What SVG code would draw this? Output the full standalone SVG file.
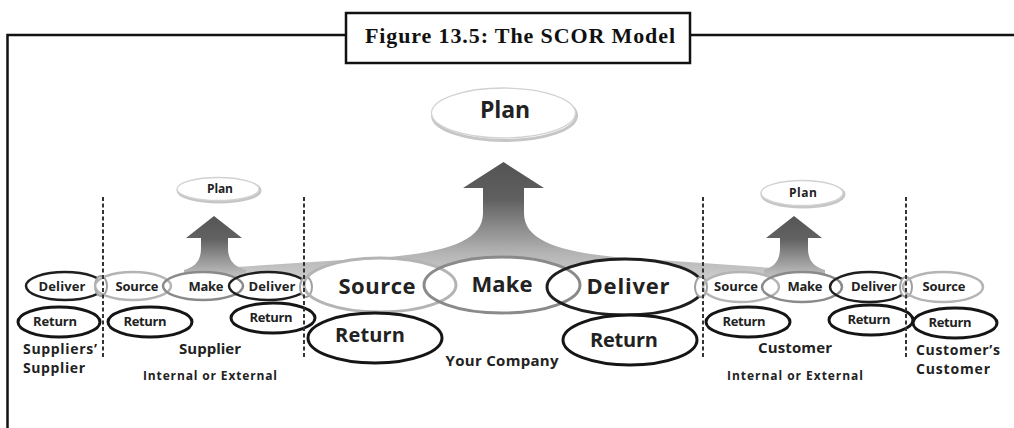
<svg xmlns="http://www.w3.org/2000/svg" width="1014" height="428" viewBox="0 0 1014 428">
<style>
.t{font-family:"Open Sans","Noto Sans",sans-serif;font-weight:700;fill:#222;text-anchor:middle}
.tl{text-anchor:start}
.s22{font-size:22px}.s20{font-size:20px}.s15{font-size:15px}.s14{font-size:14px}.s13{font-size:13px}.s12{font-size:12px}
.fill{fill:#fff;stroke:none}
.e{fill:none}
.lg{stroke:#b4b4b4;stroke-width:2.5}
.md{stroke:#8a8a8a;stroke-width:2.5}
.dk{stroke:#1e1e1e;stroke-width:2.5}
.big{stroke-width:3}
.ret{stroke:#151515;stroke-width:3}
.lnk{fill:#fff;stroke:#a0a0a0;stroke-width:2}
.plan{fill:#fff;stroke:#d2d2d2;stroke-width:1.3}
.plansh{fill:none;stroke:#c6c6c6;stroke-width:3}
.div{stroke:#333;stroke-width:2;stroke-dasharray:4 2.5;fill:none}
.frame{fill:none;stroke:#111;stroke-width:2.5}
</style>
<defs>
<linearGradient id="gBig" x1="0" y1="0" x2="0" y2="1">
<stop offset="0" stop-color="#545454"/>
<stop offset="0.3" stop-color="#5f5f5f"/>
<stop offset="0.75" stop-color="#b4b4b4"/>
<stop offset="1" stop-color="#d2d2d2"/>
</linearGradient>
<linearGradient id="gSmall" x1="0" y1="0" x2="0" y2="1">
<stop offset="0" stop-color="#555"/>
<stop offset="0.35" stop-color="#626262"/>
<stop offset="1" stop-color="#cfcfcf"/>
</linearGradient>
</defs>
<rect width="1014" height="428" fill="#fff"/>

<g id="frame">
<path class="frame" d="M7.5 428 V35 H346 M690 35 H1014"/>
<rect class="frame" x="346" y="13" width="344" height="50" fill="#fff"/>
<text x="520" y="43" font-family="'Liberation Serif',serif" font-weight="700" font-size="22" text-anchor="middle" fill="#111" textLength="310">Figure 13.5: The SCOR Model</text>
</g>

<g id="connectors">
<path fill="url(#gBig)" d="M236 267 L390 257 C450 251 483 240 483 213 L483 188 L463 188 L503.5 162 L544 188 L524 188 L524 213 C524 240 557 251 615 257 L773 268 L773 284 L236 284 Z"/>
<path fill="url(#gSmall)" d="M214 216 L242 238 L228 238 L228 248 C228 262 236 267 246 270 L246 282 L184 282 L184 270 C194 267 201 262 201 248 L201 238 L186 238 Z"/>
<path fill="url(#gSmall)" d="M794 216 L822 238 L808 238 L808 248 C808 262 815 267 825 270 L825 282 L764 282 L764 270 C773 267 780 262 780 248 L780 238 L766 238 Z"/>
</g>

<g id="fills">
<ellipse class="fill" cx="65" cy="286" rx="39" ry="14"/>
<ellipse class="fill" cx="133" cy="286" rx="38" ry="14"/>
<ellipse class="fill" cx="203" cy="286" rx="40" ry="14"/>
<ellipse class="fill" cx="268" cy="286" rx="39" ry="14"/>
<ellipse class="fill" cx="380" cy="285" rx="76" ry="27"/>
<ellipse class="fill" cx="502" cy="285" rx="78" ry="28"/>
<ellipse class="fill" cx="625" cy="287" rx="78" ry="28"/>
<ellipse class="fill" cx="741" cy="287" rx="38" ry="15"/>
<ellipse class="fill" cx="802" cy="287" rx="40" ry="15"/>
<ellipse class="fill" cx="869" cy="287" rx="39" ry="15"/>
<ellipse class="fill" cx="943" cy="287" rx="40" ry="15"/>
</g>

<g id="plan-main">
<ellipse class="plansh" cx="504.5" cy="115.5" rx="72" ry="25"/>
<ellipse class="plan" cx="503.5" cy="113" rx="72" ry="25"/>
<text class="t" x="505" y="118" font-size="23" textLength="50">Plan</text>
</g>
<g id="plan-supplier">
<ellipse class="plansh" cx="219" cy="190.5" rx="41" ry="11.5"/>
<ellipse class="plan" cx="218" cy="189" rx="41" ry="11.5"/>
<text class="t s12" x="220" y="193" textLength="26">Plan</text>
</g>
<g id="plan-customer">
<ellipse class="plansh" cx="803" cy="194.5" rx="41" ry="12.5"/>
<ellipse class="plan" cx="802" cy="193" rx="41" ry="12.5"/>
<text class="t s12" x="803" y="197" textLength="28">Plan</text>
</g>

<g id="ss-deliver"><ellipse class="e dk" cx="65" cy="286" rx="39" ry="14"/><text class="t s13" x="62" y="291" textLength="47">Deliver</text></g>
<g id="link-1"><ellipse class="lnk" cx="101" cy="286" rx="6" ry="10"/></g>
<g id="sup-source"><ellipse class="e lg" cx="133" cy="286" rx="38" ry="14"/><text class="t s13" x="137" y="291" textLength="43">Source</text></g>
<g id="sup-make"><ellipse class="e md" cx="203" cy="286" rx="40" ry="14"/><text class="t s13" x="206" y="291" textLength="35">Make</text></g>
<g id="sup-deliver"><ellipse class="e dk" cx="268" cy="286" rx="39" ry="14"/><text class="t s13" x="272" y="291" textLength="47">Deliver</text></g>
<g id="link-2"><ellipse class="lnk" cx="306" cy="287" rx="6" ry="10"/></g>

<g id="co-source"><ellipse class="e lg big" cx="380" cy="285" rx="76" ry="27"/><text class="t s22" x="377" y="294" textLength="77">Source</text></g>
<g id="co-make"><ellipse class="e md big" cx="502" cy="285" rx="78" ry="28"/><text class="t s22" x="502" y="292" textLength="61">Make</text></g>
<g id="co-deliver"><ellipse class="e dk big" cx="625" cy="287" rx="78" ry="28"/><text class="t s22" x="628" y="294" textLength="83">Deliver</text></g>
<g id="link-3"><ellipse class="lnk" cx="701" cy="287" rx="6" ry="10"/></g>

<g id="cu-source"><ellipse class="e lg" cx="741" cy="287" rx="38" ry="15"/><text class="t s13" x="736" y="291" textLength="44">Source</text></g>
<g id="cu-make"><ellipse class="e md" cx="802" cy="287" rx="40" ry="15"/><text class="t s13" x="805" y="291" textLength="35">Make</text></g>
<g id="cu-deliver"><ellipse class="e dk" cx="869" cy="287" rx="39" ry="15"/><text class="t s13" x="874" y="291" textLength="46">Deliver</text></g>
<g id="link-4"><ellipse class="lnk" cx="906" cy="287" rx="6" ry="10"/></g>
<g id="cc-source"><ellipse class="e lg" cx="943" cy="287" rx="40" ry="15"/><text class="t s13" x="944" y="291" textLength="43">Source</text></g>

<g id="ss-return"><ellipse class="fill" cx="59" cy="322" rx="41" ry="15"/><ellipse class="e ret" cx="59" cy="322" rx="41" ry="15"/><text class="t s13" x="55" y="326" textLength="44">Return</text></g>
<g id="sup-return-source"><ellipse class="fill" cx="150" cy="322" rx="42" ry="15"/><ellipse class="e ret" cx="150" cy="322" rx="42" ry="15"/><text class="t s13" x="145" y="326" textLength="43">Return</text></g>
<g id="sup-return-deliver"><ellipse class="fill" cx="273" cy="318" rx="42" ry="15"/><ellipse class="e ret" cx="273" cy="318" rx="42" ry="15"/><text class="t s13" x="271" y="322" textLength="43">Return</text></g>
<g id="co-return-source"><ellipse class="fill" cx="375" cy="338" rx="67" ry="25"/><ellipse class="e ret" cx="375" cy="338" rx="67" ry="25" stroke-width="3.5"/><text class="t s20" x="370" y="342" textLength="70">Return</text></g>
<g id="co-return-deliver"><ellipse class="fill" cx="630" cy="340" rx="67" ry="25"/><ellipse class="e ret" cx="630" cy="340" rx="67" ry="25" stroke-width="3.5"/><text class="t s20" x="624" y="347" textLength="68">Return</text></g>
<g id="cu-return-source"><ellipse class="fill" cx="748" cy="322" rx="42" ry="15"/><ellipse class="e ret" cx="748" cy="322" rx="42" ry="15"/><text class="t s13" x="744" y="326" textLength="43">Return</text></g>
<g id="cu-return-deliver"><ellipse class="fill" cx="871" cy="320" rx="42" ry="15"/><ellipse class="e ret" cx="871" cy="320" rx="42" ry="15"/><text class="t s13" x="869" y="324" textLength="43">Return</text></g>
<g id="cc-return"><ellipse class="fill" cx="955" cy="323" rx="42" ry="15"/><ellipse class="e ret" cx="955" cy="323" rx="42" ry="15"/><text class="t s13" x="950" y="327" textLength="43">Return</text></g>

<g id="dividers">
<line class="div" x1="103" y1="197" x2="103" y2="358"/>
<line class="div" x1="304" y1="197" x2="304" y2="358"/>
<line class="div" x1="703" y1="197" x2="703" y2="358"/>
<line class="div" x1="906" y1="197" x2="906" y2="358"/>
</g>

<g id="labels">
<text class="t tl s14" x="23" y="354" textLength="74">Suppliers’</text>
<text class="t tl s14" x="23" y="373" textLength="62">Supplier</text>
<text class="t s15" x="210" y="354" textLength="62">Supplier</text>
<text class="t s12" x="210" y="380" textLength="134">Internal or External</text>
<text class="t s15" x="502" y="366" textLength="113">Your Company</text>
<text class="t s15" x="795" y="353" textLength="74">Customer</text>
<text class="t s12" x="795" y="380" textLength="136">Internal or External</text>
<text class="t tl s14" x="916" y="355" textLength="84">Customer’s</text>
<text class="t tl s14" x="916" y="374" textLength="74">Customer</text>
</g>
</svg>
